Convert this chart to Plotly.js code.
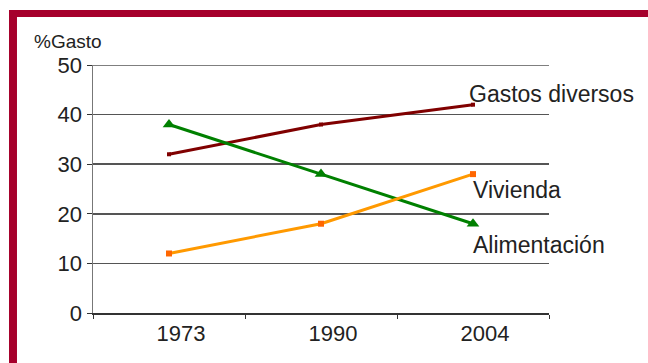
<!DOCTYPE html>
<html>
<head>
<meta charset="utf-8">
<script src="https://cdn.plot.ly/plotly-3.0.1.min.js"></script>
<style>html,body{margin:0;padding:0;background:#fff;}#chart{width:648px;height:363px;}</style>
</head>
<body>
<div id="chart"></div>
<script>
const years = ["1973", "1990", "2004"];
const gastosDiversos = [32, 38, 42];
const alimentacion = [38, 28, 18];
const vivienda = [12, 18, 28];
const yTicks = [0, 10, 20, 30, 40, 50];
const seriesNames = ["Gastos diversos", "Vivienda", "Alimentación"];

const font = "Liberation Sans, Arial, sans-serif";
const traces = [
  {x: years, y: gastosDiversos, type: "scatter", mode: "lines+markers", name: seriesNames[0],
   line: {color: "#800000", width: 3}, marker: {symbol: "square", size: 4, color: "#800000"}},
  {x: years, y: alimentacion, type: "scatter", mode: "lines+markers", name: seriesNames[2],
   line: {color: "#008000", width: 3}, marker: {symbol: "triangle-up", size: 11, color: "#008000"}},
  {x: years, y: vivienda, type: "scatter", mode: "lines+markers", name: seriesNames[1],
   line: {color: "#FF9900", width: 3}, marker: {symbol: "square", size: 6, color: "#FF6600"}}
];

const layout = {
  width: 648, height: 363,
  margin: {l: 93, r: 99, t: 65, b: 50},
  paper_bgcolor: "#fff", plot_bgcolor: "#fff",
  showlegend: false,
  font: {family: font, size: 22, color: "#222"},
  xaxis: {type: "category", range: [-0.5, 2.5], tickson: "boundaries", ticks: "outside", ticklen: 4,
          tickcolor: "#333", showgrid: false, showline: true, linecolor: "#333", linewidth: 1.5,
          ticklabelshift: 12,
          tickfont: {size: 22, color: "#222"}, zeroline: false, fixedrange: true},
  yaxis: {range: [0, 50], tickvals: yTicks, ticks: "outside", ticklen: 5, tickcolor: "#333",
          showgrid: true, gridcolor: "#555", gridwidth: 1.5, showline: true, linecolor: "#777",
          linewidth: 1.5, zeroline: false, tickfont: {size: 22, color: "#222"}, fixedrange: true},
  annotations: [
    {xref: "paper", yref: "paper", x: -0.134, y: 1.095, xanchor: "left", yanchor: "middle",
     text: "%Gasto", showarrow: false, font: {size: 19, color: "#222"}},
    {xref: "x", yref: "y", x: 2, y: 44.2, xshift: -6, xanchor: "left", yanchor: "middle",
     text: seriesNames[0], showarrow: false, font: {size: 23, color: "#222"}},
    {xref: "x", yref: "y", x: 2, y: 24.8, xshift: -2, xanchor: "left", yanchor: "middle",
     text: seriesNames[1], showarrow: false, font: {size: 23, color: "#222"}},
    {xref: "x", yref: "y", x: 2, y: 13.7, xshift: -2, xanchor: "left", yanchor: "middle",
     text: seriesNames[2], showarrow: false, font: {size: 23, color: "#222"}}
  ],
  shapes: [
    {type: "line", xref: "paper", yref: "y", x0: 0, x1: 1, y0: yTicks[yTicks.length - 1], y1: yTicks[yTicks.length - 1],
     line: {color: "#555", width: 1.5}, layer: "below"},
    {type: "rect", xref: "paper", yref: "paper", x0: -0.1842, x1: -0.1667, y0: -0.21, y1: 1.2218,
     fillcolor: "#A6002C", line: {width: 0}, layer: "above"},
    {type: "rect", xref: "paper", yref: "paper", x0: -0.1842, x1: 1.23, y0: 1.1935, y1: 1.2218,
     fillcolor: "#A6002C", line: {width: 0}, layer: "above"}
  ]
};

Plotly.newPlot("chart", traces, layout, {displayModeBar: false, staticPlot: true});
</script>
</body>
</html>
